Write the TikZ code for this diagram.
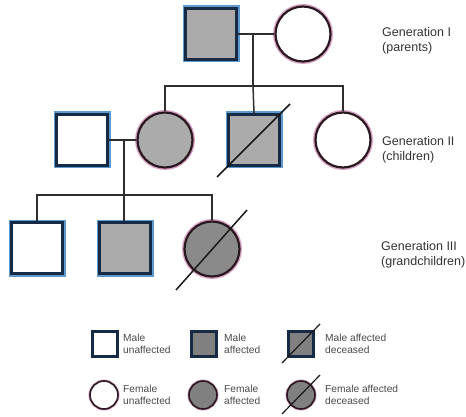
\documentclass[tikz,border=0pt]{standalone}
\usepackage{fontspec}
\setmainfont{Liberation Sans}
\begin{document}
\begin{tikzpicture}[x=1pt,y=-1pt,
  conn/.style={draw=linegray, line width=1.5pt},
  slash/.style={draw=black!90, line width=1.5pt},
  male/.style={rectangle, minimum size=51pt, inner sep=0pt, fill=white,
    draw=navy, line width=3.2pt, preaction={draw=glowblue, line width=6pt}},
  female/.style={circle, minimum size=55pt, inner sep=0pt, fill=white,
    draw=darkrim, line width=2.2pt, preaction={draw=glowpink, line width=5pt}},
  lmale/.style={rectangle, minimum size=25pt, inner sep=0pt, fill=white,
    draw=navy, line width=2.2pt, preaction={draw=glowblue, line width=3.5pt}},
  lfemale/.style={circle, minimum size=28pt, inner sep=0pt, fill=white,
    draw=darkrim, line width=1.6pt, preaction={draw=glowpink, line width=3pt}},
  genlabel/.style={anchor=west, align=left, inner sep=0pt, text=labelgray,
    font=\fontsize{12.5}{15}\selectfont},
  leglabel/.style={anchor=west, align=left, inner sep=0pt, text=leggray,
    font=\fontsize{10.2}{12}\selectfont}
]
\definecolor{navy}{HTML}{172A44}
\definecolor{glowblue}{HTML}{5E9ACF}
\definecolor{darkrim}{HTML}{2A1820}
\definecolor{glowpink}{HTML}{D9A3C4}
\definecolor{linegray}{HTML}{2E2E2E}
\definecolor{labelgray}{HTML}{333333}
\definecolor{leggray}{HTML}{4A4A4A}
\definecolor{affA}{HTML}{ABABAB}
\definecolor{affB}{HTML}{8A8A8A}
\definecolor{legfill}{HTML}{808080}

\useasboundingbox[fill=white] (0,0) rectangle (466,417);

% Generation I
\node[male, fill=affA] (g1m) at (211,34) {};
\node[female] (g1f) at (303,34) {};
\coordinate (m1) at (253,34);
\coordinate (s1) at (253,86);

% Generation II
\node[male] (g2a) at (82,140) {};
\node[female, fill=affA] (g2b) at (165,140) {};
\node[male, fill=affA] (g2c) at (254,140) {};
\node[female] (g2d) at (343,140) {};
\coordinate (m2) at (124,140);
\coordinate (s2) at (124,195);

% Generation III
\node[male] (g3e) at (37,248) {};
\node[male, fill=affA] (g3f) at (125,248) {};
\node[female, fill=affB] (g3g) at (212,249) {};

% connectors
\draw[conn] (g1m) -- (g1f);
\draw[conn] (m1) -- (s1);
\draw[conn] (g2b.north) |- (s1) -| (g2d.north);
\draw[conn] (s1) -- (g2c.north);
\draw[conn] (g2a) -- (g2b);
\draw[conn] (m2) -- (s2);
\draw[conn] (g3e.north) |- (s2) -| (g3g.north);
\draw[conn] (s2) -- (s2 |- g3f.north);

% deceased slashes
\draw[slash] ([shift={(-37,37)}]g2c.center) -- ([shift={(36,-36)}]g2c.center);
\draw[slash] ([shift={(-36,41)}]g3g.center) -- ([shift={(35,-39)}]g3g.center);

% generation labels
\node[genlabel] (t1) at (382,41) {Generation I\\(parents)};
\node[genlabel] (t2) at (382,150) {Generation II\\(children)};
\node[genlabel] (t3) at (381,255) {Generation III\\(grandchildren)};

% legend
\node[lmale] (l1) at (105,344) {};
\node[lmale, fill=legfill] (l2) at (204,344) {};
\node[lmale, fill=legfill] (l3) at (301,344) {};
\node[lfemale] (l4) at (104,395) {};
\node[lfemale, fill=legfill] (l5) at (203,395) {};
\node[lfemale, fill=legfill] (l6) at (301,395) {};
\draw[slash, line width=1.2pt] ([shift={(-19,19)}]l3.center) -- ([shift={(19,-20)}]l3.center);
\draw[slash, line width=1.2pt] ([shift={(-19,19)}]l6.center) -- ([shift={(19,-20)}]l6.center);

\node[leglabel] (lt1) at (123,344) {Male\\unaffected};
\node[leglabel] (lt2) at (224,344) {Male\\affected};
\node[leglabel] (lt3) at (325,344) {Male affected\\deceased};
\node[leglabel] (lt4) at (123,395) {Female\\unaffected};
\node[leglabel] (lt5) at (224,395) {Female\\affected};
\node[leglabel] (lt6) at (325,395) {Female affected\\deceased};
\end{tikzpicture}
\end{document}
